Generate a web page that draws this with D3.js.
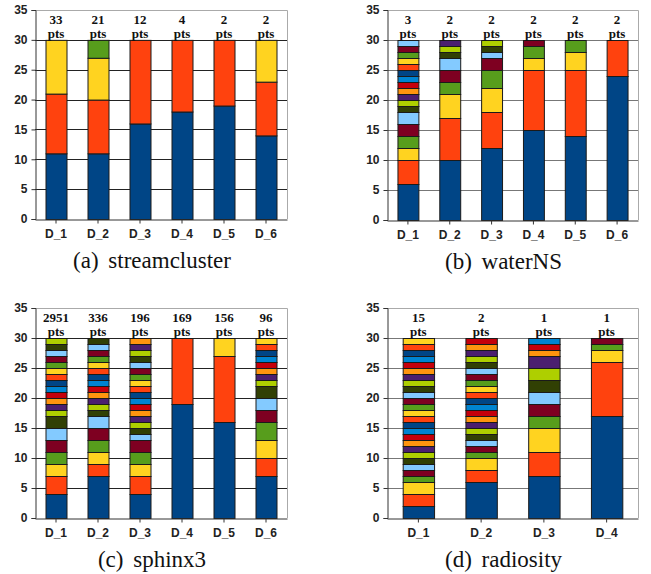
<!DOCTYPE html>
<html>
<head>
<meta charset="utf-8">
<script src="https://cdn.jsdelivr.net/npm/d3@7"></script>
<style>
  body { margin: 0; background: #fff; }
  svg { display: block; }
  .tick text { font-family: "Liberation Sans", Arial, sans-serif; font-weight: bold; font-size: 12px; fill: #222; }
  .serif { font-family: "Liberation Serif", "Times New Roman", serif; }
</style>
</head>
<body>
<div id="chart-area"></div>
<script>
// LibreOffice default series colours, cycled
const palette = ["#004586", "#ff420e", "#ffd320", "#579d1c", "#7e0021", "#83caff",
  "#314004", "#aecf00", "#4b1f6f", "#ff950e", "#c5000b", "#0084d1"];

const yTicks = [0, 5, 10, 15, 20, 25, 30, 35];

// (a) streamcluster
const streamclusterCats = ["D_1", "D_2", "D_3", "D_4", "D_5", "D_6"];
const streamclusterPts = [33, 21, 12, 4, 2, 2];
const streamclusterSegs = [
  [11, 10, 9],
  [11, 9, 7, 3],
  [16, 14],
  [18, 12],
  [19, 11],
  [14, 9, 7]
];

// (b) waterNS
const waterNSCats = ["D_1", "D_2", "D_3", "D_4", "D_5", "D_6"];
const waterNSPts = [3, 2, 2, 2, 2, 2];
const waterNSSegs = [
  [6, 4, 2, 2, 2, 2, 1, 1, 1, 1, 1, 1, 1, 1, 1, 1, 1, 1],
  [10, 7, 4, 2, 2, 2, 1, 1, 1],
  [12, 6, 4, 3, 2, 1, 1, 1],
  [15, 10, 2, 2, 1],
  [14, 11, 3, 2],
  [24, 6]
];

// (c) sphinx3
const sphinx3Cats = ["D_1", "D_2", "D_3", "D_4", "D_5", "D_6"];
const sphinx3Pts = [2951, 336, 196, 169, 156, 96];
const sphinx3Segs = [
  [4, 3, 2, 2, 2, 2, 2, 1, 1, 1, 1, 1, 1, 1, 1, 1, 1, 1, 1, 1],
  [7, 2, 2, 2, 2, 2, 1, 1, 1, 1, 1, 1, 1, 1, 1, 1, 1, 1, 1],
  [4, 3, 2, 2, 2, 1, 1, 1, 1, 1, 1, 1, 1, 1, 1, 1, 1, 1, 1, 1, 1, 1],
  [19, 11],
  [16, 11, 3],
  [7, 3, 3, 3, 2, 2, 2, 1, 1, 1, 1, 1, 1, 1, 1]
];

// (d) radiosity
const radiosityCats = ["D_1", "D_2", "D_3", "D_4"];
const radiosityPts = [15, 2, 1, 1];
const radiositySegs = [
  [2, 2, 2, 1, 1, 1, 1, 1, 1, 1, 1, 1, 1, 1, 1, 1, 1, 1, 1, 1, 1, 1, 1, 1, 1, 1, 1],
  [6, 2, 2, 1, 1, 1, 1, 1, 1, 1, 1, 1, 1, 1, 1, 1, 1, 1, 1, 1, 1, 1, 1],
  [7, 4, 4, 2, 2, 2, 2, 2, 2, 1, 1, 1],
  [17, 9, 2, 1, 1]
];

const panels = [
  { caption: "(a) streamcluster", cats: streamclusterCats, pts: streamclusterPts, segs: streamclusterSegs,
    left: 35, right: 287, top: 10, bottom: 219, grid: "#222" },
  { caption: "(b) waterNS", cats: waterNSCats, pts: waterNSPts, segs: waterNSSegs,
    left: 387, right: 638, top: 10, bottom: 220, grid: "#777" },
  { caption: "(c) sphinx3", cats: sphinx3Cats, pts: sphinx3Pts, segs: sphinx3Segs,
    left: 35, right: 287, top: 308, bottom: 518, grid: "#222" },
  { caption: "(d) radiosity", cats: radiosityCats, pts: radiosityPts, segs: radiositySegs,
    left: 387, right: 638, top: 308, bottom: 518, grid: "#777" }
];

const svg = d3.select("#chart-area")
  .append("svg")
  .attr("width", 651)
  .attr("height", 574);

panels.forEach(p => {
  const x = d3.scaleBand()
    .domain(p.cats)
    .range([p.left, p.right])
    .paddingInner(0.5)
    .paddingOuter(0.25);
  const y = d3.scaleLinear()
    .domain([0, 35])
    .range([p.bottom, p.top]);

  const g = svg.append("g");

  // frame (top + right) and gridlines
  g.append("path")
    .attr("d", `M${p.left},${y(35) + 0.5}H${p.right + 0.5}V${p.bottom}`)
    .attr("fill", "none")
    .attr("stroke", "#aaa");
  g.selectAll(".grid")
    .data(yTicks.filter(t => t > 0 && t < 35))
    .enter()
    .append("line")
    .attr("x1", p.left)
    .attr("x2", p.right)
    .attr("y1", d => Math.round(y(d)) + 0.5)
    .attr("y2", d => Math.round(y(d)) + 0.5)
    .attr("stroke", p.grid);

  // stacked bars
  const nKeys = d3.max(p.segs, s => s.length);
  const keys = d3.range(nKeys);
  const table = p.cats.map((c, i) => {
    const row = { cat: c };
    keys.forEach(k => (row[k] = p.segs[i][k] || 0));
    return row;
  });
  const series = d3.stack().keys(keys)(table);

  series.forEach((s, k) => {
    g.selectAll(null)
      .data(s.filter(d => d[1] > d[0]))
      .enter()
      .append("rect")
      .attr("x", d => x(d.data.cat) + 0.5)
      .attr("y", d => y(d[1]) + 0.5)
      .attr("width", x.bandwidth())
      .attr("height", d => y(d[0]) - y(d[1]))
      .attr("fill", palette[k % palette.length])
      .attr("stroke", "#1a1a1a")
      .attr("stroke-width", 1);
  });

  // axes
  const yAxis = d3.axisLeft(y).tickValues(yTicks).tickSize(4).tickPadding(4);
  g.append("g")
    .attr("transform", `translate(${p.left + 0.5},0)`)
    .call(yAxis)
    .call(a => a.selectAll("path, line").attr("stroke", "#333"));

  const xAxis = d3.axisBottom(x).tickSize(4).tickPadding(6).tickSizeOuter(0);
  g.append("g")
    .attr("transform", `translate(0,${p.bottom + 0.5})`)
    .call(xAxis)
    .call(a => a.selectAll("path, line").attr("stroke", "#333"));

  // point-count labels
  const lab = g.selectAll(".pts")
    .data(p.cats)
    .enter()
    .append("text")
    .attr("class", "serif")
    .attr("x", d => x(d) + x.bandwidth() / 2)
    .attr("text-anchor", "middle")
    .attr("font-weight", "bold")
    .attr("font-size", "13px")
    .attr("fill", "#111");
  lab.append("tspan")
    .attr("x", d => x(d) + x.bandwidth() / 2)
    .attr("y", y(35) + 14)
    .text((d, i) => p.pts[i]);
  lab.append("tspan")
    .attr("x", d => x(d) + x.bandwidth() / 2)
    .attr("y", y(35) + 28)
    .text("pts");

  // caption
  g.append("text")
    .attr("class", "serif")
    .attr("x", (p.left + p.right) / 2 - 9)
    .attr("y", p.bottom + 49)
    .attr("text-anchor", "middle")
    .attr("font-size", "23px")
    .attr("fill", "#111")
    .attr("word-spacing", "4px")
    .text(p.caption);
});
</script>
</body>
</html>
